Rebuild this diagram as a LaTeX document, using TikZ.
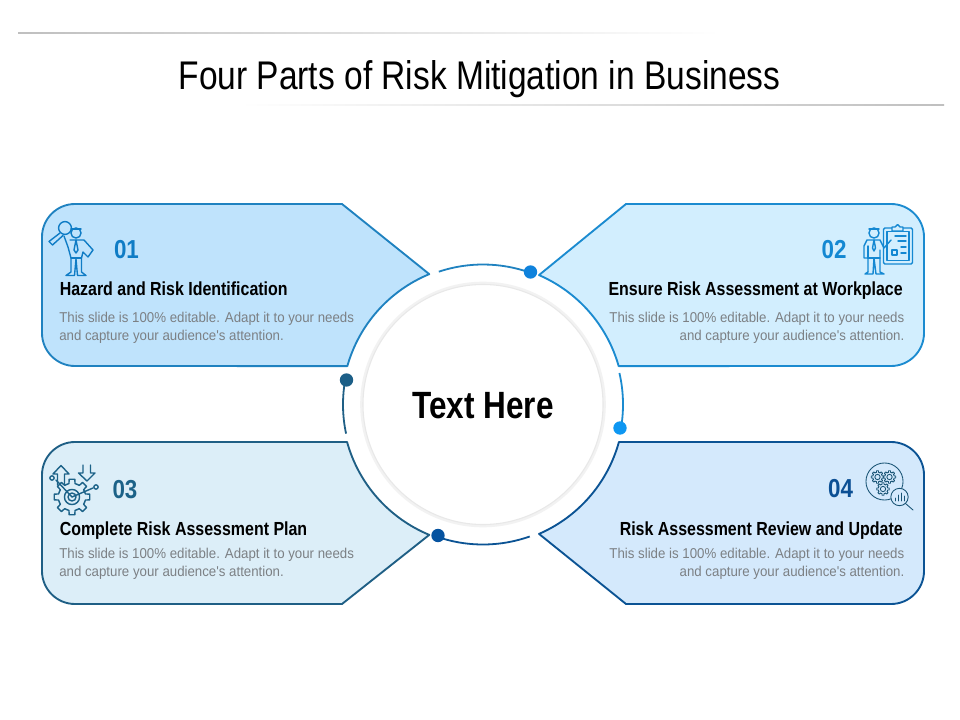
\documentclass[tikz,border=0pt]{standalone}
\usepackage{fontspec}
\setmainfont{Liberation Sans}
\newfontfamily\titlefont[FakeStretch=0.838]{Liberation Sans}
\newfontfamily\headfont[FakeStretch=0.843]{Liberation Sans}
\newfontfamily\centrefont[FakeStretch=0.83]{Liberation Sans}
\newfontfamily\bodyfont[FakeStretch=0.93]{Liberation Sans}
\newfontfamily\numfont[FakeStretch=0.86]{Liberation Sans}
\usetikzlibrary{calc}
\definecolor{fa}{HTML}{BFE3FC}\definecolor{fb}{HTML}{D2EEFE}\definecolor{fc}{HTML}{DCEEF8}\definecolor{fd}{HTML}{D4E9FC}
\definecolor{la}{HTML}{1F82C0}\definecolor{lb}{HTML}{1B8BD0}\definecolor{lc}{HTML}{1F5F85}\definecolor{ld}{HTML}{0B5394}
\definecolor{na}{HTML}{0F7CC5}\definecolor{nb}{HTML}{1488D2}\definecolor{nc}{HTML}{1C6288}\definecolor{nd}{HTML}{0B4F94}
\definecolor{da}{HTML}{0F82DC}\definecolor{db}{HTML}{0E97F2}\definecolor{dc}{HTML}{1C5F87}\definecolor{dd}{HTML}{0653A0}
\definecolor{bodygray}{HTML}{7C8084}
\tikzset{
 cardline/.style={line width=1.4pt,line join=round},
 arcline/.style={line width=1.35pt},
 headtext/.style={inner sep=0pt,text=black,font=\headfont\bfseries\fontsize{14.2}{17}\selectfont},
 bodytext/.style={inner sep=0pt,text=bodygray,font=\bodyfont\fontsize{10.7}{13.5}\selectfont},
 numtext/.style={inner sep=0pt,font=\numfont\bfseries\fontsize{19.5}{22}\selectfont},
 icon/.style={line width=1.05pt,line join=round,line cap=round},
 thinicon/.style={line width=0.65pt,line join=round,line cap=round},
}
\newcommand{\cog}[3]{%
 \begin{scope}[shift={(#1,#2)},x=0.75pt,y=0.75pt]
 \foreach \a in {0,45,...,315}{
  \draw (\a-22.5:#3*0.76) -- (\a-13:#3*0.76) -- (\a-9:#3) -- (\a+9:#3) -- (\a+13:#3*0.76) -- (\a+22.5:#3*0.76);
 }
 \draw (0,0) circle ({#3*0.42});
 \end{scope}}
\begin{document}
\begin{tikzpicture}[x=0.75pt,y=-0.75pt]
\useasboundingbox (0,0) rectangle (960,720);
\fill[white] (0,0) rectangle (960,720);
\coordinate (c) at (483,404.5);
% title rules
\shade[left color=black!25,right color=white] (18,32.6) rectangle (720,33.8);
\shade[left color=white,right color=black!25] (240,104.6) rectangle (944,105.8);
\node[inner sep=0pt,anchor=base,font=\titlefont\fontsize{30}{34}\selectfont] (title) at (479.5,90) {Four Parts of Risk Mitigation in Business};
% cards
\draw[cardline,draw=la,fill=fa] (342,204) -- ([shift={(112.4:105.75pt)}]c) arc[start angle=112.4,end angle=164.2,radius=105.75pt] -- (75,366) arc[start angle=270,end angle=180,radius=24.75pt] -- (42,237) arc[start angle=180,end angle=90,radius=24.75pt] -- cycle;
\draw[cardline,draw=lb,fill=fb] (626,204) -- ([shift={(66.6:105.75pt)}]c) arc[start angle=66.6,end angle=15.8,radius=105.75pt] -- (891,366) arc[start angle=270,end angle=360,radius=24.75pt] -- (924,237) arc[start angle=0,end angle=90,radius=24.75pt] -- cycle;
\draw[cardline,draw=lc,fill=fc] (342,604) -- ([shift={(-112.4:105.75pt)}]c) arc[start angle=-112.4,end angle=-164.6,radius=105.75pt] -- (75,442) arc[start angle=90,end angle=180,radius=24.75pt] -- (42,571) arc[start angle=180,end angle=270,radius=24.75pt] -- cycle;
\draw[cardline,draw=ld,fill=fd] (626,604) -- ([shift={(-66.6:105.75pt)}]c) arc[start angle=-66.6,end angle=-15.4,radius=105.75pt] -- (891,442) arc[start angle=90,end angle=0,radius=24.75pt] -- (924,571) arc[start angle=360,end angle=270,radius=24.75pt] -- cycle;
% white gap and centre
\fill[white] (c) circle (104pt);
\draw[arcline,draw=la] ([shift={(108.4:105pt)}]c) arc[start angle=108.4,end angle=70.5,radius=105pt];
\draw[arcline,draw=lb] ([shift={(13:105pt)}]c) arc[start angle=13,end angle=-10,radius=105pt];
\draw[arcline,draw=lc] ([shift={(170:105pt)}]c) arc[start angle=170,end angle=192,radius=105pt];
\draw[arcline,draw=ld] ([shift={(-110:105pt)}]c) arc[start angle=-110,end angle=-70.5,radius=105pt];
\node[circle,fill=da,minimum size=10pt,inner sep=0pt] (dota) at (530.5,272) {};
\node[circle,fill=db,minimum size=10pt,inner sep=0pt] (dotb) at (620,428) {};
\node[circle,fill=dc,minimum size=10pt,inner sep=0pt] (dotc) at (346.5,380) {};
\node[circle,fill=dd,minimum size=10pt,inner sep=0pt] (dotd) at (438,535.5) {};
\draw[line width=2.2pt,draw=black!5] (c) circle (91pt);
\draw[line width=0.8pt,draw=black!9,fill=white] (c) circle (90pt);
\node[inner sep=0pt,anchor=base,font=\centrefont\bfseries\fontsize{28.5}{30}\selectfont] (centre) at (483,418) {Text Here};
% numbers
\node[numtext,text=na,anchor=base] (n1) at (126.5,259) {01};
\node[numtext,text=nb,anchor=base] (n2) at (834,259) {02};
\node[numtext,text=nc,anchor=base] (n3) at (125,498.5) {03};
\node[numtext,text=nd,anchor=base] (n4) at (840.5,497) {04};
% headings
\node[headtext,anchor=base west] (h1) at (59.5,296) {Hazard and Risk Identification};
\node[headtext,anchor=base east] (h2) at (903,296) {Ensure Risk Assessment at Workplace};
\node[headtext,anchor=base west] (h3) at (59.5,535) {Complete Risk Assessment Plan};
\node[headtext,anchor=base east] (h4) at (903,535) {Risk Assessment Review and Update};
% body
\node[bodytext,anchor=base west] (b1a) at (59,322) {This slide is 100\% editable. Adapt it to your needs};
\node[bodytext,anchor=base west] (b1b) at (59,340) {and capture your audience's attention.};
\node[bodytext,anchor=base east] (b2a) at (904.5,322) {This slide is 100\% editable. Adapt it to your needs};
\node[bodytext,anchor=base east] (b2b) at (904.5,340) {and capture your audience's attention.};
\node[bodytext,anchor=base west] (b3a) at (59,558) {This slide is 100\% editable. Adapt it to your needs};
\node[bodytext,anchor=base west] (b3b) at (59,576) {and capture your audience's attention.};
\node[bodytext,anchor=base east] (b4a) at (904.5,558) {This slide is 100\% editable. Adapt it to your needs};
\node[bodytext,anchor=base east] (b4b) at (904.5,576) {and capture your audience's attention.};
% icon 1: person with magnifier
\begin{scope}[icon,draw=na]
 \draw (65,228) circle (4.8pt);
 \draw (60,233) -- (49,241.5) -- (52.5,245) -- (63,235.5);
 \draw (76,233) circle (3.8pt);
 \draw (71,229) -- (81,229);
 \draw (64,236) -- (68,247) -- (71,258) -- (71,272) -- (66,275.5) -- (74.5,275.5) -- (76,259) -- (77.5,275.5) -- (86,275.5) -- (81.5,272) -- (81.5,258) -- (83,252) -- (88,257) -- (93,250) -- (84,240) -- (70,240);
 \draw (76,240) -- (74,250) -- (76,253) -- (78,250) -- cycle;
 \draw (71,258) -- (81.5,258);
\end{scope}
% icon 2: person with clipboard
\begin{scope}[icon,draw=nb]
 \draw[rounded corners=1pt] (883.5,228) rectangle (912.5,264);
 \draw (887,231.5) rectangle (909,260.5);
 \draw[fill=fb] (892,231) -- (892,227) -- (895,227) -- (897.5,224.5) -- (900,227) -- (903,227) -- (903,231) -- cycle;
 \draw (895,236) -- (906,236) (898,241) -- (906,241) (901,247) -- (906,247) (901,253) -- (906,253);
 \draw (892,250) rectangle (897,255);
 \draw (874,233) circle (3.8pt);
 \draw (869,229) -- (879,229);
 \draw (891,240) -- (884,248) -- (882,244) -- (880,240) -- (867,240) -- (864,246) -- (864,258) -- (868,258) -- (868,272);
 \draw (868,272) -- (865,274) -- (873,274) -- (874,258) -- (876,274) -- (884,274) -- (880,272) -- (880,250);
 \draw (874,240) -- (872.5,248) -- (874,251) -- (875.5,248) -- cycle;
 \draw (868,246) -- (868,258) -- (880,258);
\end{scope}
% icon 3: gear with arrows
\begin{scope}[icon,draw=nc]
 \cog{72}{497}{18}
 \draw (72,497) circle (3pt);
 \draw (72,497) -- (93,488);
 \draw (72,497) -- (56,480);
 \draw (96,487) circle (1.6pt);
 \draw (52,478) circle (1.6pt);
 \draw (57.5,485) -- (57.5,474) -- (53,474) -- (61,465.5) -- (69,474) -- (64.5,474) -- (64.5,485);
 \draw (83,465) -- (83,473) -- (78.5,473) -- (87,481) -- (95,473) -- (90.5,473) -- (90.5,465);
\end{scope}
% icon 4: gears with lens
\begin{scope}[thinicon,draw=nc!85!black]
 \draw (884.5,481.5) circle (13.9pt);
 \cog{877.5}{477}{6.3}
 \cog{889.5}{477}{6.3}
 \cog{883}{489}{6.3}
 \draw[fill=fd] (899.5,497) circle (6.5pt);
 \draw (905.5,503.5) -- (913,510);
 \draw (895,501) -- (895,498) (898,501) -- (898,495) (901,501) -- (901,493) (904,501) -- (904,496);
\end{scope}
\end{tikzpicture}
\end{document}
